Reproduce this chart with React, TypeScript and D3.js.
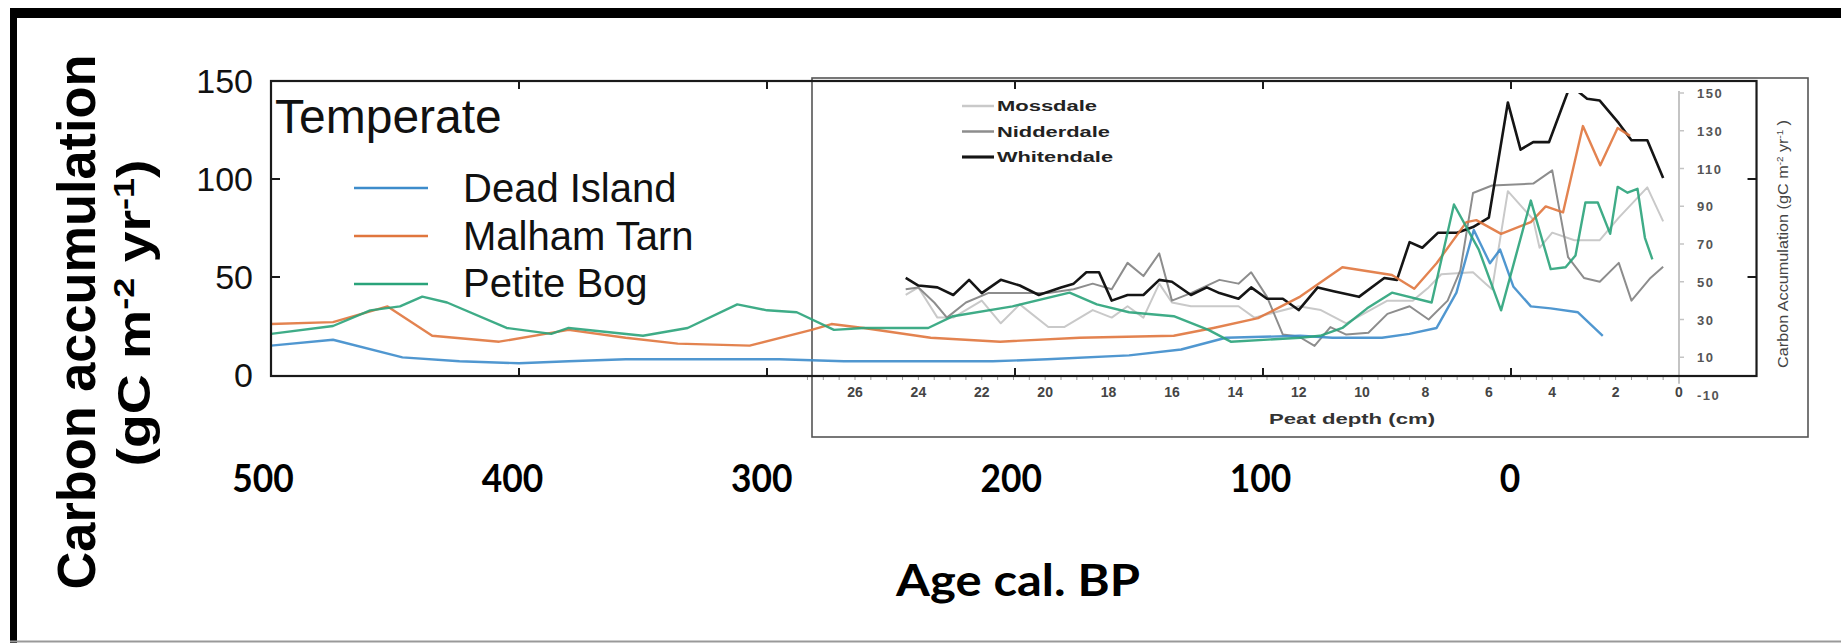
import React from 'react';
import * as d3 from 'd3';

const W = 1841;
const H = 643;

// main panel ticks
const ageTicks = [500, 400, 300, 200, 100, 0];
const frameTicksX = [400, 300, 200, 100, 0];
const accTicks = [0, 50, 100, 150];
const frameTicksY = [50, 100];

// Temperate sites (age cal. BP, gC m-2 yr-1)
const deadIslandAge = [500, 475, 447, 424, 400, 380, 357, 332, 295, 269, 241, 209, 187, 154, 133, 115, 85, 72, 52, 41, 30, 22, 15, 8.5, 4.4, -1, -8, -16, -27, -37];
const deadIslandVal = [15, 18, 9, 7, 6, 7, 8, 8, 8, 7, 7, 7, 8, 10, 13, 19, 20, 19, 19, 21, 24, 42, 74, 57, 64, 45, 35, 34, 32, 20];

const malhamAge = [500, 475, 453, 435, 408, 380, 357, 336, 307, 282, 274, 261, 234, 206, 174, 136, 120, 102, 85, 68, 48, 39, 30, 18, 14, 4, -8, -14, -21, -29, -36, -43, -48];
const malhamVal = [26, 27, 35, 20, 17, 23, 19, 16, 15, 23, 26, 24, 19, 17, 19, 20, 24, 29, 40, 55, 51, 44, 57, 78, 79, 72, 78, 86, 83, 127, 107, 126, 122];

const petiteAge = [500, 475, 460, 448, 439, 429, 405, 387, 380, 350, 332, 312, 300, 288, 273, 261, 235, 225, 201, 178, 167, 154, 136, 122, 113, 85, 77, 68, 58, 48, 32, 23, 13, 4, -8, -16, -22, -26, -30, -35, -40, -43, -47, -51, -54, -57];
const petiteVal = [21, 25, 33, 35, 40, 37, 24, 21, 24, 20, 24, 36, 33, 32, 23, 24, 24, 30, 35, 42, 36, 32, 30, 23, 17, 19, 20, 24, 34, 42, 37, 87, 64, 33, 89, 54, 55, 61, 88, 88, 72, 96, 93, 95, 70, 59];

const mainNames = ['Dead Island', 'Malham Tarn', 'Petite Bog'];
const mainColors = ['#3d8ccb', '#e0763d', '#2aa37a'];

// inset: peat depth (cm) vs carbon accumulation
const depthTicks = [26, 24, 22, 20, 18, 16, 14, 12, 10, 8, 6, 4, 2, 0];
const insetAccTicks = [150, 130, 110, 90, 70, 50, 30, 10, -10];

const mossDepth = [24.4, 24.0, 23.4, 22.9, 22.0, 21.4, 20.8, 19.9, 19.4, 18.5, 17.9, 17.4, 16.9, 16.4, 16.0, 15.4, 14.5, 13.9, 13.4, 12.0, 11.3, 10.5, 9.2, 8.4, 7.9, 7.5, 6.5, 6.1, 5.9, 5.4, 4.6, 4.4, 4.0, 3.3, 2.5, 1.9, 1.0, 0.5];
const mossVal = [43, 47, 31, 31, 40, 28, 38, 26, 26, 35, 31, 37, 31, 49, 39, 37, 37, 37, 31, 37, 35, 28, 40, 40, 47, 54, 55, 49, 46, 98, 83, 68, 76, 72, 72, 84, 100, 82];

const niddDepth = [24.4, 24.0, 23.5, 23.1, 22.5, 21.8, 21.0, 19.9, 19.1, 18.5, 17.9, 17.4, 16.9, 16.4, 16.0, 15.4, 14.5, 13.9, 13.5, 13.0, 12.5, 12.0, 11.5, 11.0, 10.5, 9.8, 9.2, 8.5, 7.9, 7.3, 6.9, 6.5, 5.9, 4.6, 4.0, 3.5, 3.0, 2.5, 1.9, 1.5, 0.9, 0.5];
const niddVal = [46, 47, 39, 31, 39, 44, 44, 44, 46, 49, 46, 60, 53, 65, 40, 44, 51, 49, 55, 42, 22, 21, 16, 26, 22, 23, 33, 37, 30, 40, 56, 97, 101, 102, 109, 63, 52, 50, 60, 40, 52, 58];

const whitDepth = [24.4, 24.0, 23.4, 22.9, 22.4, 22.0, 21.4, 20.8, 20.2, 19.5, 19.1, 18.7, 18.3, 17.9, 17.4, 16.9, 16.4, 16.0, 15.4, 14.9, 14.5, 13.9, 13.5, 13.0, 12.5, 12.0, 11.4, 10.9, 10.1, 9.3, 8.9, 8.5, 8.1, 7.6, 7.0, 6.5, 6.0, 5.4, 5.0, 4.6, 4.1, 3.5, 3.35, 3.2, 2.9, 2.5, 1.9, 1.5, 1.0, 0.5];
const whitVal = [52, 48, 47, 43, 51, 44, 51, 48, 43, 47, 49, 55, 55, 40, 43, 43, 51, 50, 43, 47, 44, 41, 47, 41, 41, 35, 47, 45, 42, 52, 51, 71, 68, 76, 76, 79, 84, 145, 120, 124, 124, 151, 170, 151, 147, 146, 134, 125, 125, 105];

const insetNames = ['Mossdale', 'Nidderdale', 'Whitendale'];
const insetColors = ['#c9c9c9', '#8d8d8d', '#151515'];
const insetWidths = [2, 2, 2.6];
const insetLegendLen = [100, 113, 116];

const xMain = d3.scaleLinear().domain([500, 0]).range([271, 1511]);
const yMain = d3.scaleLinear().domain([0, 150]).range([375, 81]);
// the slide's bold age labels sit a little off the plot ticks
const xSlide = d3.scaleLinear().domain([500, 0]).range([263, 1510]);

const xIn = d3.scaleLinear().domain([0, 26]).range([1679, 855]);
const yIn = d3.scaleLinear().domain([-10, 150]).range([395, 93]);

const zip = (a: number[], b: number[]) => a.map((v, i) => [v, b[i]] as [number, number]);

const mainLine = d3.line<[number, number]>().x(d => xMain(d[0])).y(d => yMain(d[1]));
const insetLine = d3.line<[number, number]>().x(d => xIn(d[0])).y(d => yIn(d[1]));

const sans = '"Liberation Sans", Arial, sans-serif';
const slideFont = "Lato, 'Open Sans', sans-serif";

export default function App() {
    const mainData = [zip(deadIslandAge, deadIslandVal), zip(malhamAge, malhamVal), zip(petiteAge, petiteVal)];
    const insetData = [zip(mossDepth, mossVal), zip(niddDepth, niddVal), zip(whitDepth, whitVal)];

    const fx0 = xMain(500);
    const fx1 = xMain(-99);
    const fy0 = yMain(150);
    const fy1 = yMain(0) + 1;

    return (
        <svg width={W} height={H} style={{ position: 'absolute', left: 0, top: 0, display: 'block', background: '#fff' }}>
            <defs>
                <clipPath id="frameClip">
                    <rect x={fx0} y={fy0} width={fx1 - fx0} height={fy1 - fy0} />
                </clipPath>
                <clipPath id="insetClip">
                    <rect x={812} y={yIn(150)} width={fx1 - 812} height={fy1 - yIn(150)} />
                </clipPath>
            </defs>

            {/* slide border */}
            <rect x={10} y={8} width={W - 10} height={10} fill="#000" />
            <rect x={10} y={8} width={7} height={H - 8} fill="#000" />
            <line x1={10} x2={W} y1={641.5} y2={641.5} stroke="#999" strokeWidth={2} />

            {/* y title */}
            <text transform="translate(95, 322) rotate(-90)" textAnchor="middle" fontFamily={sans} fontWeight="bold"
                fontSize={54} textLength={535} lengthAdjust="spacingAndGlyphs" fill="#000">Carbon accumulation</text>
            <text transform="translate(150, 313) rotate(-90)" textAnchor="middle" fontFamily={sans} fontWeight="bold"
                fontSize={46} textLength={307} lengthAdjust="spacingAndGlyphs" fill="#000">
                (gC m<tspan baselineShift="super" fontSize={30}>-2</tspan> yr<tspan baselineShift="super" fontSize={30}>-1</tspan>)
            </text>

            {/* main y tick labels */}
            {accTicks.map(v => (
                <text key={'yl' + v} x={253} y={yMain(v) + 12} textAnchor="end" fontFamily={sans} fontSize={34} fill="#111">{v}</text>
            ))}

            {/* inset box */}
            <rect x={812} y={78} width={996} height={359} fill="none" stroke="#555" strokeWidth={1.6} />

            {/* inset minor ticks along the depth axis */}
            {d3.range(0, 27.6, 0.5).map(d => (
                <line key={'mt' + d} x1={xIn(d)} x2={xIn(d)} y1={fy1} y2={fy1 + 4} stroke="#999" strokeWidth={1} />
            ))}
            {depthTicks.map(d => (
                <text key={'dl' + d} x={xIn(d)} y={397} textAnchor="middle" fontFamily={sans} fontWeight="bold" fontSize={14} fill="#444">{d}</text>
            ))}
            <text x={1352} y={424} textAnchor="middle" fontFamily={sans} fontWeight="bold" fontSize={15}
                textLength={166} lengthAdjust="spacingAndGlyphs" fill="#333">Peat depth (cm)</text>

            {/* inset right axis (grey) */}
            <line x1={xIn(0)} x2={xIn(0)} y1={yIn(151)} y2={yIn(-4)} stroke="#c4c4c4" strokeWidth={2} />
            {insetAccTicks.map(v => (
                <g key={'ia' + v}>
                    {v > -10 && <line x1={xIn(0)} x2={xIn(0) + 5} y1={yIn(v)} y2={yIn(v)} stroke="#c4c4c4" strokeWidth={1.5} />}
                    <text x={1697} y={yIn(v) + 5} fontFamily={sans} fontWeight="bold" fontSize={13} letterSpacing={1.5} fill="#555">{v}</text>
                </g>
            ))}
            <text transform="translate(1788, 244) rotate(-90)" textAnchor="middle" fontFamily={sans} fontSize={15}
                textLength={248} lengthAdjust="spacingAndGlyphs" fill="#444">
                Carbon Accumulation (gC m<tspan baselineShift="super" fontSize={9}>-2</tspan> yr<tspan baselineShift="super" fontSize={9}>-1</tspan> )
            </text>

            {/* inset legend */}
            {insetNames.map((name, i) => (
                <g key={name}>
                    <line x1={962} x2={994} y1={106 + i * 25.5} y2={106 + i * 25.5} stroke={insetColors[i]} strokeWidth={insetWidths[i] + 0.5} />
                    <text x={997} y={111 + i * 25.5} fontFamily={sans} fontWeight="bold" fontSize={14}
                        textLength={insetLegendLen[i]} lengthAdjust="spacingAndGlyphs" fill="#222">{name}</text>
                </g>
            ))}

            {/* inset series */}
            <g clipPath="url(#insetClip)">
                {insetData.map((pts, i) => (
                    <path key={insetNames[i]} d={insetLine(pts) || ''} fill="none" stroke={insetColors[i]}
                        strokeWidth={insetWidths[i]} strokeLinejoin="round" />
                ))}
            </g>

            {/* main series */}
            <g clipPath="url(#frameClip)">
                {mainData.map((pts, i) => (
                    <path key={mainNames[i]} d={mainLine(pts) || ''} fill="none" stroke={mainColors[i]}
                        strokeWidth={2.4} strokeLinejoin="round" opacity={0.9} />
                ))}
            </g>

            {/* main frame with inward ticks */}
            <rect x={fx0} y={fy0} width={fx1 - fx0} height={fy1 - fy0} fill="none" stroke="#1a1a1a" strokeWidth={2.2} />
            {frameTicksX.map(a => (
                <g key={'ft' + a}>
                    <line x1={xMain(a)} x2={xMain(a)} y1={fy0} y2={fy0 + 8} stroke="#1a1a1a" strokeWidth={2} />
                    <line x1={xMain(a)} x2={xMain(a)} y1={fy1} y2={fy1 - 8} stroke="#1a1a1a" strokeWidth={2} />
                </g>
            ))}
            {frameTicksY.map(v => (
                <g key={'fy' + v}>
                    <line x1={fx0} x2={fx0 + 9} y1={yMain(v)} y2={yMain(v)} stroke="#1a1a1a" strokeWidth={2} />
                    <line x1={fx1} x2={fx1 - 9} y1={yMain(v)} y2={yMain(v)} stroke="#1a1a1a" strokeWidth={2} />
                </g>
            ))}

            {/* panel title and legend */}
            <text x={275} y={133} fontFamily={sans} fontSize={48} fill="#111">Temperate</text>
            {mainNames.map((name, i) => (
                <g key={'lg' + name}>
                    <line x1={354} x2={428} y1={188 + i * 48} y2={188 + i * 48} stroke={mainColors[i]} strokeWidth={2.6} />
                    <text x={463} y={202 + i * 47.5} fontFamily={sans} fontSize={40} fill="#111">{name}</text>
                </g>
            ))}

            {/* slide-level bold age labels */}
            {ageTicks.map(a => (
                <text key={'al' + a} x={xSlide(a)} y={492} textAnchor="middle" fontFamily={slideFont}
                    fontWeight="bold" fontSize={38} textLength={String(a).length * 20.5} lengthAdjust="spacingAndGlyphs"
                    fill="#000">{a}</text>
            ))}
            <text x={1018} y={596} textAnchor="middle" fontFamily={slideFont} fontWeight="bold"
                fontSize={43} textLength={244} lengthAdjust="spacingAndGlyphs" fill="#000">Age cal. BP</text>
        </svg>
    );
}
